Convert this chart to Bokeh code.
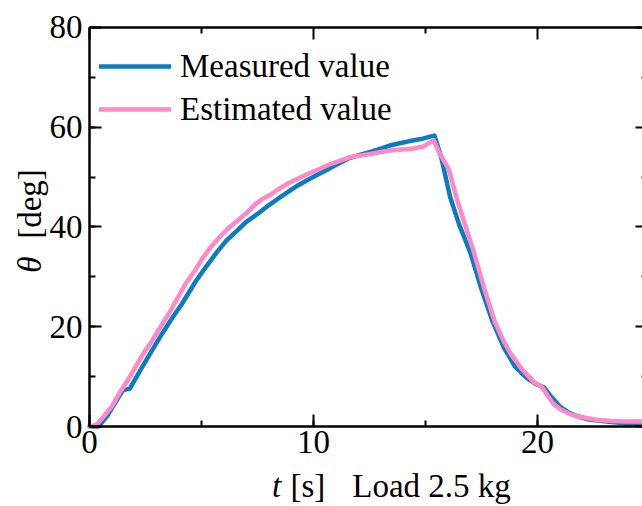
import math
from bokeh.plotting import figure
from bokeh.models import (LinearAxis, SingleIntervalTicker, FixedTicker, Range1d,
                          Label, Legend, LegendItem)
from bokeh.embed import file_html
from bokeh.resources import INLINE

# ---- data ----
t_meas = [0, 0.4, 0.8, 1.3, 1.5, 1.8, 2.35, 2.8, 3.24, 3.7, 4.13, 4.73, 5.2,
          5.7, 6.1, 6.6, 7.0, 7.5, 7.9, 8.4, 8.8, 9.3, 9.9, 10.5, 11.0, 11.6,
          12.1, 12.5, 13.0, 13.4, 13.9, 14.3, 14.8, 15.2, 15.4, 15.7, 16.1,
          16.5, 17.0, 17.5, 18.0, 18.5, 19.0, 19.5, 19.9, 20.3, 20.6, 21.0,
          21.4, 21.8, 22.3, 22.7, 23.3, 23.8, 24.3, 24.8]
theta_meas = [0, 0, 2.2, 5.9, 7.3, 7.6, 11.9, 15.3, 18.6, 21.8, 24.6, 29.0,
              32.0, 35.0, 37.2, 39.3, 41.0, 42.6, 44.0, 45.6, 46.8, 48.3,
              49.8, 51.2, 52.4, 53.8, 54.5, 55.0, 55.7, 56.3, 56.8, 57.2,
              57.6, 58.1, 58.3, 54.0, 46.0, 40.5, 34.9, 27.5, 21.0, 15.8,
              12.0, 9.8, 8.6, 7.8, 6.0, 4.0, 2.8, 2.0, 1.4, 1.2, 0.9, 0.7,
              0.6, 0.6]

t_est = [0, 0.3, 0.6, 1.0, 1.31, 1.7, 2.05, 2.4, 2.8, 3.2, 3.54, 3.9, 4.29,
         4.7, 5.0, 5.4, 5.9, 6.29, 6.7, 7.04, 7.4, 7.71, 8.1, 8.45, 8.9, 9.27,
         9.7, 10.16, 10.76, 11.2, 11.65, 12.1, 12.54, 13.0, 13.44, 13.9,
         14.33, 14.9, 15.37, 15.6, 16.04, 16.4, 16.8, 17.16, 17.6, 18.1, 18.5,
         18.8, 19.3, 19.84, 20.2, 20.45, 20.7, 21.0, 21.4, 21.8, 22.3, 22.7,
         23.3, 23.9, 24.8]
theta_est = [0, 0.3, 1.8, 4.0, 6.5, 9.2, 11.9, 14.6, 17.2, 20.2, 22.6, 25.5,
             28.6, 31.2, 33.4, 35.9, 38.4, 40.1, 41.6, 42.9, 44.5, 45.6, 46.5,
             47.6, 48.8, 49.6, 50.5, 51.4, 52.6, 53.3, 54.0, 54.3, 54.6, 55.0,
             55.3, 55.5, 55.6, 56.1, 57.4, 55.0, 51.6, 45.6, 40.0, 34.9, 28.0,
             20.9, 17.0, 14.6, 11.5, 8.9, 7.9, 6.2, 4.6, 3.5, 2.6, 2.0, 1.6,
             1.3, 1.1, 1.0, 1.0]

series_labels = ["Measured value", "Estimated value"]
x_title_italic = "t"
x_title_unit = "[s]"
x_title_note = "Load 2.5 kg"
y_title_italic = "θ"
y_title_unit = "[deg]"
x_ticks_interval = 10
y_ticks_interval = 20
x_major_ticks = [0, 10, 20]
x_minor_ticks = [5, 15]
y_major_ticks = [0, 20, 40, 60, 80]
y_minor_ticks = [10, 30, 50, 70]
x_axis_max = 24.91   # right spine lies just past the picture's edge
y_axis_max = 80

FONT = "Liberation Serif"
FS = "33px"
BLUE = "#0a7cc0"
PINK = "#ff88c8"

W, H = 642, 506
# frame covers whole canvas; axes sit at fixed data locations
p = figure(width=W, height=H, output_backend="svg", toolbar_location=None,
           x_range=Range1d(-3.973, 24.688), y_range=Range1d(-16.03, 85.37),
           x_axis_location=None, y_axis_location=None, min_border=0)
p.outline_line_color = None
p.xgrid.visible = False
p.ygrid.visible = False
p.background_fill_color = "white"
p.border_fill_color = "white"


def style_ticks(ax):
    ax.axis_line_width = 2.5
    ax.axis_line_color = "black"
    ax.major_tick_in = 12
    ax.major_tick_out = 0
    ax.minor_tick_in = 6
    ax.minor_tick_out = 0
    ax.major_tick_line_width = 2
    ax.minor_tick_line_width = 2
    ax.major_tick_line_color = "black"
    ax.minor_tick_line_color = "black"


def labelled_axis(interval, loc, bounds, standoff):
    ax = LinearAxis(ticker=SingleIntervalTicker(interval=interval, num_minor_ticks=2),
                    fixed_location=loc, bounds=bounds)
    style_ticks(ax)
    ax.major_label_text_font = FONT
    ax.major_label_text_color = "black"
    ax.major_label_text_font_size = FS
    ax.major_label_standoff = standoff
    return ax


def tick_only_axis(ticks, tick_len, loc, bounds, draw_line):
    # ticks drawn as "minor" ticks, so that no tick labels are produced
    ax = LinearAxis(ticker=FixedTicker(ticks=[], minor_ticks=ticks),
                    fixed_location=loc, bounds=bounds)
    style_ticks(ax)
    ax.minor_tick_in = tick_len
    if not draw_line:
        ax.axis_line_color = None
    return ax


p.add_layout(labelled_axis(x_ticks_interval, 0, (0, x_axis_max), 4), "below")
p.add_layout(labelled_axis(y_ticks_interval, 0, (0, y_axis_max), 7), "left")
p.add_layout(tick_only_axis(x_major_ticks, 12, y_axis_max, (0, x_axis_max), True), "above")
p.add_layout(tick_only_axis(x_minor_ticks, 6, y_axis_max, (0, x_axis_max), False), "above")
p.add_layout(tick_only_axis(y_major_ticks, 12, x_axis_max, (0, y_axis_max), False), "right")
p.add_layout(tick_only_axis(y_minor_ticks, 6, x_axis_max, (0, y_axis_max), False), "right")

r1 = p.line(t_meas, theta_meas, line_color=BLUE, line_width=4.5,
            line_join="round", line_cap="round")
r2 = p.line(t_est, theta_est, line_color=PINK, line_width=4.5,
            line_join="round", line_cap="round")

legend = Legend(items=[LegendItem(label=series_labels[0], renderers=[r1]),
                       LegendItem(label=series_labels[1], renderers=[r2])],
                location=(99, 378))
legend.label_text_font = FONT
legend.label_text_font_size = FS
legend.label_text_color = "black"
legend.glyph_width = 72
legend.glyph_height = 38
legend.label_height = 38
legend.label_standoff = 9
legend.spacing = 5
legend.padding = 0
legend.margin = 0
legend.border_line_color = None
legend.background_fill_alpha = 0
p.add_layout(legend)


# axis titles (inside the full-canvas frame)
def title(x, y, text, italic=False, align="left", angle=0.0):
    p.add_layout(Label(x=x, y=y, text=text, text_font=FONT,
                       text_font_style="italic" if italic else "normal",
                       text_font_size=FS, text_color="black",
                       text_align=align, text_baseline="alphabetic",
                       angle=angle))


title(8.35, -11.85, x_title_italic, italic=True, align="center")
title(8.97, -11.85, x_title_unit)
title(11.73, -11.85, x_title_note)
title(-2.66, 32.46, y_title_italic, italic=True, align="center", angle=math.pi / 2)
title(-2.66, 44.59, y_title_unit, align="center", angle=math.pi / 2)

open("out.html", "w").write(file_html(p, INLINE))
